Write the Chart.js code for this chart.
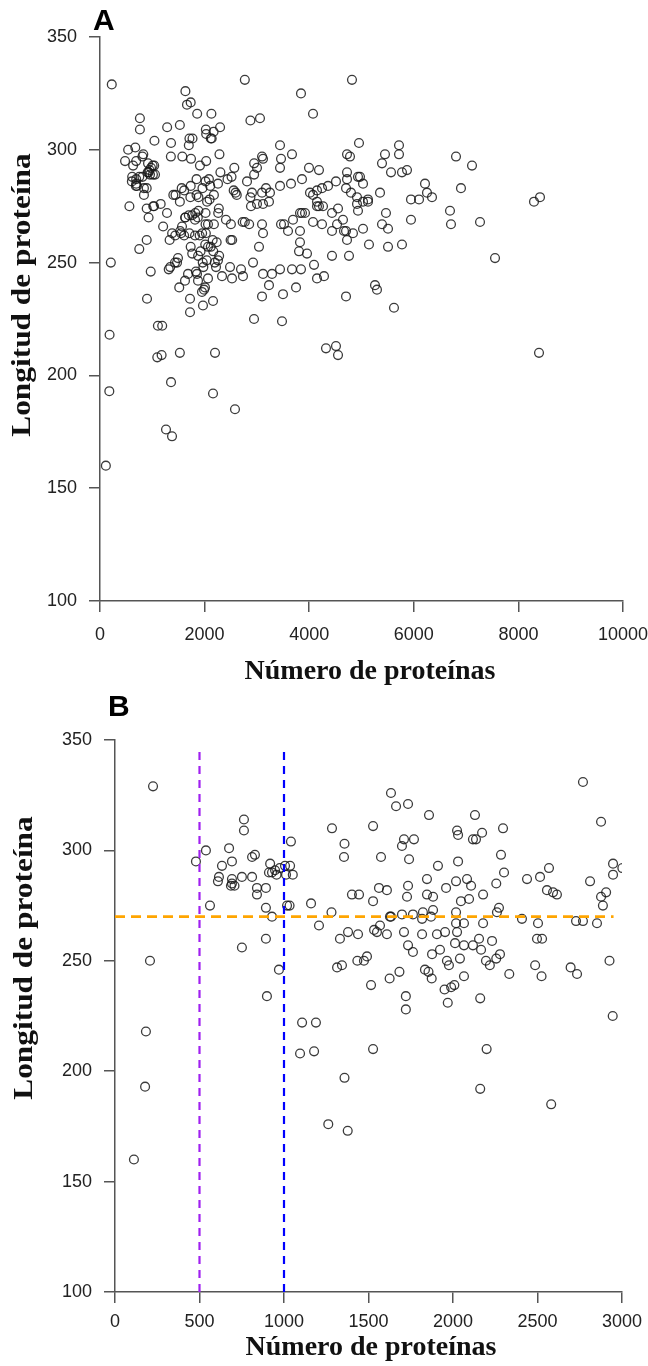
<!DOCTYPE html>
<html>
<head>
<meta charset="utf-8">
<script src="https://cdn.jsdelivr.net/npm/chart.js@4.4.1/dist/chart.umd.min.js"></script>
<style>
  body { margin: 0; background: #fff; }
  #wrap { position: relative; width: 648px; height: 1366px; }
  .panel { position: absolute; left: 0; }
  .tag { position: absolute; font-family: "Liberation Sans", Arial, sans-serif; font-weight: bold; font-size: 30px; line-height: 1; color: #000; }
</style>
</head>
<body>
<div id="wrap">
  <canvas id="cvA" class="panel" style="top:0" width="648" height="690"></canvas>
  <canvas id="cvB" class="panel" style="top:690px" width="648" height="676"></canvas>
  <div class="tag" style="left:93px;top:5px">A</div>
  <div class="tag" style="left:108px;top:691px">B</div>
</div>
<script>
// numero de proteinas por genoma (x) y longitud media de proteina (y)
const numProteinas = [
  112,178,183,207,225,479,538,562,609,615,633,675,686,692,692,692,707,751,751,763,763,811,811,828,840,840,893,893,893,899,911,918,929,929,947,956,970,975,1006,1012,1018,1033,1036,1041,1052,1095,1107,
  1160,1178,1189,1207,1262,1281,1284,1314,1331,1343,1355,1358,1358,1377,1379,1402,1434,1438,1444,1473,1491,
  1515,1527,1527,1527,1533,1550,1562,1568,1574,1609,1609,1625,1627,1633,1633,1663,1683,1698,1698,1710,1710,1721,1721,1728,1734,1734,1734,1740,1763,1763,1769,1817,1817,1822,1834,1846,1846,1855,1858,1870,1874,1876,1882,1882,1905,1911,1923,1950,1953,1959,1964,1969,1976,1989,
  2008,2012,2018,2018,2018,2024,2024,2030,2030,2041,2047,2065,2065,2065,2083,2095,2107,2118,2118,2130,2136,2154,2161,2161,2166,2172,2178,2178,2195,2199,2218,2231,2256,2256,2260,2272,2278,2284,2296,2302,2333,2408,2438,2486,2497,
  2503,2515,2524,2527,2556,2568,2581,2592,2615,2696,2728,2734,2769,2769,2811,2852,2876,2876,2887,2906,2926,2945,2947,2947,3002,3002,
  3040,3059,3098,3098,3098,3098,3117,3117,3117,3117,3174,3231,3231,3250,3289,3442,3442,3442,3442,3461,3461,3480,3499,3518,3595,3652,3671,3671,3690,3748,3805,3824,3824,3824,3843,3843,3862,3862,3920,3958,3996,
  4015,4073,4073,4073,4092,4149,4149,4149,4149,4187,4187,4245,4245,4264,4283,4321,4360,4436,4436,4436,4512,4512,4532,4551,4551,4646,4665,4704,4704,4704,4723,4723,4723,4723,4761,4780,4799,4818,4837,4914,4914,4933,4933,4952,4971,
  5029,5029,5029,5124,5124,5143,5258,5296,5354,5392,5392,5449,5468,5507,5507,5564,5621,5717,5717,5774,5774,5870,5946,5946,6100,6214,6252,6348,6692,6711,6807,6902,7113,7266,7553,8298,8394,8413
];
const longitudProteina = [
  160,193,218,250,329,295,300,275,286,288,293,301,284,295,287,285,284,288,256,314,309,297,288,298,283,280,283,274,260,234,290,294,290,270,291,289,246,292,293,289,275,275,293,304,289,208,222,
  276,209,222,266,176,272,310,247,260,248,297,303,197,173,263,280,250,262,280,250,252,
  239,311,277,210,264,263,283,266,297,282,262,242,270,326,270,320,245,302,271,305,263,234,228,279,321,284,257,296,271,254,305,269,262,272,246,287,280,245,316,270,242,253,279,273,262,293,255,237,263,283,250,231,248,238,
  239,258,286,272,267,309,263,307,295,251,277,267,257,243,287,278,284,305,257,316,305,260,233,192,255,308,280,267,250,210,248,259,285,251,272,274,253,298,310,290,244,269,287,248,260,
  267,288,243,260,282,292,185,281,280,247,268,244,331,268,286,267,313,279,275,281,250,225,294,289,292,276,
  257,314,297,281,267,235,296,276,263,245,283,277,240,281,245,302,292,284,247,296,267,224,236,267,264,285,298,247,269,239,255,272,264,259,325,247,287,272,272,254,292,
  281,316,280,268,249,282,277,275,243,291,275,283,267,275,244,212,284,272,264,253,286,213,267,274,209,269,264,283,264,235,298,290,287,260,253,297,281,331,263,279,276,288,273,303,288,
  285,277,265,278,277,258,240,238,281,294,267,298,272,265,257,290,230,302,298,290,258,291,278,269,278,285,281,279,273,267,297,283,293,268,252,277,210,279
];

// ejes: [min, max, paso]
const ejeY = [100, 350, 50];
const ejeXA = [0, 10000, 2000];
const ejeXB = [0, 3000, 500];

// lineas de referencia del panel B
const cortes = [500, 1000];
const coloresCorte = ["#a020f0", "#0000ff"];
const longitudMedia = 270;
const finLineaMedia = 2950;

const puntos = numProteinas.map((x, i) => ({ x: x, y: longitudProteina[i] }));

const sans = "'Liberation Sans', Arial, sans-serif";
const serif = "'Liberation Serif', 'Times New Roman', serif";
const ejeColor = "#555";

// titulos de los ejes, dibujados a mano para poder colocarlos
const titulos = {
    id: "titulos",
    afterDraw(chart, args, o) {
        const ctx = chart.ctx;
        ctx.save();
        ctx.fillStyle = "#111";
        ctx.textAlign = "center";
        ctx.textBaseline = "middle";
        ctx.font = "bold " + o.size + "px " + serif;
        ctx.fillText("Número de proteínas", o.xPos[0], o.xPos[1]);
        ctx.translate(o.yPos[0], o.yPos[1]);
        ctx.rotate(-Math.PI / 2);
        ctx.scale(o.stretch, 1);
        ctx.fillText("Longitud de proteína", 0, 0);
        ctx.restore();
    }
};

function makeChart(id, ejeX, extra, box) {
    const canvas = document.getElementById(id);

    const datasets = [{
        type: "scatter",
        data: puntos,
        pointStyle: "circle",
        pointRadius: 4.4,
        pointBorderWidth: 1.3,
        borderColor: "rgba(25,25,25,0.85)",
        backgroundColor: "rgba(0,0,0,0)",
        clip: { left: 8, top: 8, right: 0, bottom: 8 },
        order: 1
    }].concat(extra);

    const pasos = (eje) => s => { s.ticks = []; for (let v = eje[0]; v <= eje[1]; v += eje[2]) s.ticks.push({ value: v }); };

    new Chart(canvas, {
        type: "scatter",
        data: { datasets: datasets },
        plugins: [titulos],
        options: {
            responsive: false,
            animation: false,
            devicePixelRatio: 1,
            events: [],
            layout: { padding: { top: box.top, right: box.right, left: 0, bottom: 0 } },
            plugins: {
                legend: { display: false },
                tooltip: { enabled: false },
                titulos: box.titles
            },
            scales: {
                x: {
                    type: "linear",
                    min: ejeX[0], max: ejeX[1],
                    afterBuildTicks: pasos(ejeX),
                    ticks: { color: "#222", font: { family: sans, size: 18 }, padding: box.xPad, maxRotation: 0, autoSkip: false, callback: v => String(v) },
                    grid: { drawOnChartArea: false, drawTicks: true, tickLength: 11, color: ejeColor, lineWidth: 1.5 },
                    border: { display: true, color: ejeColor, width: 1.5 },
                    afterFit: s => { s.height = box.xHeight; s.paddingLeft = 0; s.paddingRight = 0; }
                },
                y: {
                    type: "linear",
                    min: ejeY[0], max: ejeY[1],
                    afterBuildTicks: pasos(ejeY),
                    ticks: { color: "#222", font: { family: sans, size: 18 }, padding: box.yPad, callback: v => String(v) },
                    grid: { drawOnChartArea: false, drawTicks: true, tickLength: 11, color: ejeColor, lineWidth: 1.5 },
                    border: { display: true, color: ejeColor, width: 1.5 },
                    afterFit: s => { s.width = box.yWidth; s.paddingTop = 0; s.paddingBottom = 0; }
                }
            }
        }
    });
}

makeChart("cvA", ejeXA, [], {
    top: 37, right: 25, yWidth: 100, xHeight: 89, xPad: 12, yPad: 12,
    titles: { size: 28, stretch: 1.12, xPos: [370, 672], yPos: [23, 295] }
});

const lineasB = cortes.map((c, i) => ({
    type: "line",
    data: [{ x: c, y: ejeY[0] }, { x: c, y: 346 }],
    borderColor: coloresCorte[i],
    borderWidth: 2.2,
    borderDash: [8, 6],
    pointRadius: 0,
    order: 0
}));
lineasB.push({
    type: "line",
    data: [{ x: ejeXB[0], y: longitudMedia }, { x: finLineaMedia, y: longitudMedia }],
    borderColor: "#ffa500",
    borderWidth: 2.6,
    borderDash: [10, 6],
    pointRadius: 0,
    order: 0
});

makeChart("cvB", ejeXB, lineasB, {
    top: 50, right: 26, yWidth: 115, xHeight: 74, xPad: 8, yPad: 12,
    titles: { size: 28, stretch: 1.12, xPos: [371, 658], yPos: [25, 268] }
});
</script>
</body>
</html>
